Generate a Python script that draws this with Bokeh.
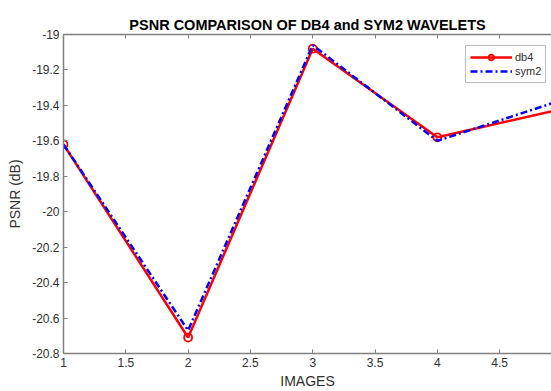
from bokeh.plotting import figure
from bokeh.models import Range1d, FixedTicker, LinearAxis, Legend, LegendItem
from bokeh.embed import file_html
from bokeh.resources import INLINE

images = [1, 2, 3, 4, 5]
db4 = [-19.62, -20.71, -19.08, -19.58, -19.42]
sym2 = [-19.62, -20.67, -19.06, -19.60, -19.37]
x_ticks = [1, 1.5, 2, 2.5, 3, 3.5, 4, 4.5]
x_tick_labels = ["1", "1.5", "2", "2.5", "3", "3.5", "4", "4.5"]
y_ticks = [-19.0, -19.2, -19.4, -19.6, -19.8, -20.0, -20.2, -20.4, -20.6, -20.8]
y_tick_labels = ["-19", "-19.2", "-19.4", "-19.6", "-19.8", "-20", "-20.2", "-20.4", "-20.6", "-20.8"]

FONT = "Liberation Sans"
AX = "#808080"
TXT = "#303030"

p = figure(width=551, height=391, output_backend="svg", toolbar_location=None,
           x_range=Range1d(1, 4.916), y_range=Range1d(-20.8, -19.0),
           min_border_left=63, min_border_right=0, min_border_top=34, min_border_bottom=38,
           x_axis_label="IMAGES", y_axis_label="PSNR (dB)")
p.outline_line_color = None
p.grid.visible = False
p.background_fill_color = "white"

p.title.text = "PSNR COMPARISON OF DB4 and SYM2 WAVELETS"
p.title.align = "center"
p.title.text_font = FONT
p.title.text_font_size = "14.5px"
p.title.text_font_style = "bold"
p.title.text_color = "black"
p.title.standoff = 4

for ax in (p.xaxis[0], p.yaxis[0]):
    ax.axis_line_color = AX
    ax.axis_line_width = 1.5
    ax.major_tick_line_color = AX
    ax.major_tick_in = 4
    ax.major_tick_out = 0
    ax.minor_tick_line_color = None
    ax.major_label_text_font = FONT
    ax.major_label_text_font_size = "12px"
    ax.major_label_text_color = TXT
    ax.axis_label_text_font = FONT
    ax.axis_label_text_font_size = "14px"
    ax.axis_label_text_font_style = "normal"
    ax.axis_label_text_color = TXT

p.xaxis[0].ticker = FixedTicker(ticks=x_ticks)
p.xaxis[0].major_label_overrides = dict(zip(x_ticks, x_tick_labels))
p.xaxis[0].major_label_standoff = 4
p.xaxis[0].axis_label_standoff = 3
p.yaxis[0].ticker = FixedTicker(ticks=y_ticks)
p.yaxis[0].major_label_overrides = dict(zip(y_ticks, y_tick_labels))
p.yaxis[0].major_label_standoff = 4
p.yaxis[0].axis_label_standoff = 6

top = LinearAxis(ticker=FixedTicker(ticks=x_ticks), axis_line_color=AX, axis_line_width=1.5,
                 major_tick_line_color=AX, major_tick_in=4, major_tick_out=0,
                 minor_tick_line_color=None, major_label_standoff=0,
                 major_label_overrides={t: "" for t in x_ticks})
p.add_layout(top, "above")

l1 = p.line(images, db4, line_color="#ff0000", line_width=2.5)
m1 = p.scatter(images, db4, marker="circle", size=8, line_color="#ff0000", line_width=1.8,
               fill_color=None)
l2 = p.line(images, sym2, line_color="#0000ff", line_width=2.5, line_dash="7 3 2 3")

legend = Legend(items=[LegendItem(label="db4", renderers=[l1, m1]),
                       LegendItem(label="sym2", renderers=[l2])],
                location=(402, 270))
legend.border_line_color = AX
legend.border_line_width = 1
legend.label_text_font = FONT
legend.label_text_font_size = "11px"
legend.label_text_color = TXT
legend.glyph_width = 42
legend.glyph_height = 14
legend.label_height = 14
legend.spacing = 0
legend.padding = 4
legend.margin = 0
legend.label_standoff = 3
legend.background_fill_alpha = 1
p.add_layout(legend, "center")

open("out.html", "w").write(file_html(p, INLINE))
